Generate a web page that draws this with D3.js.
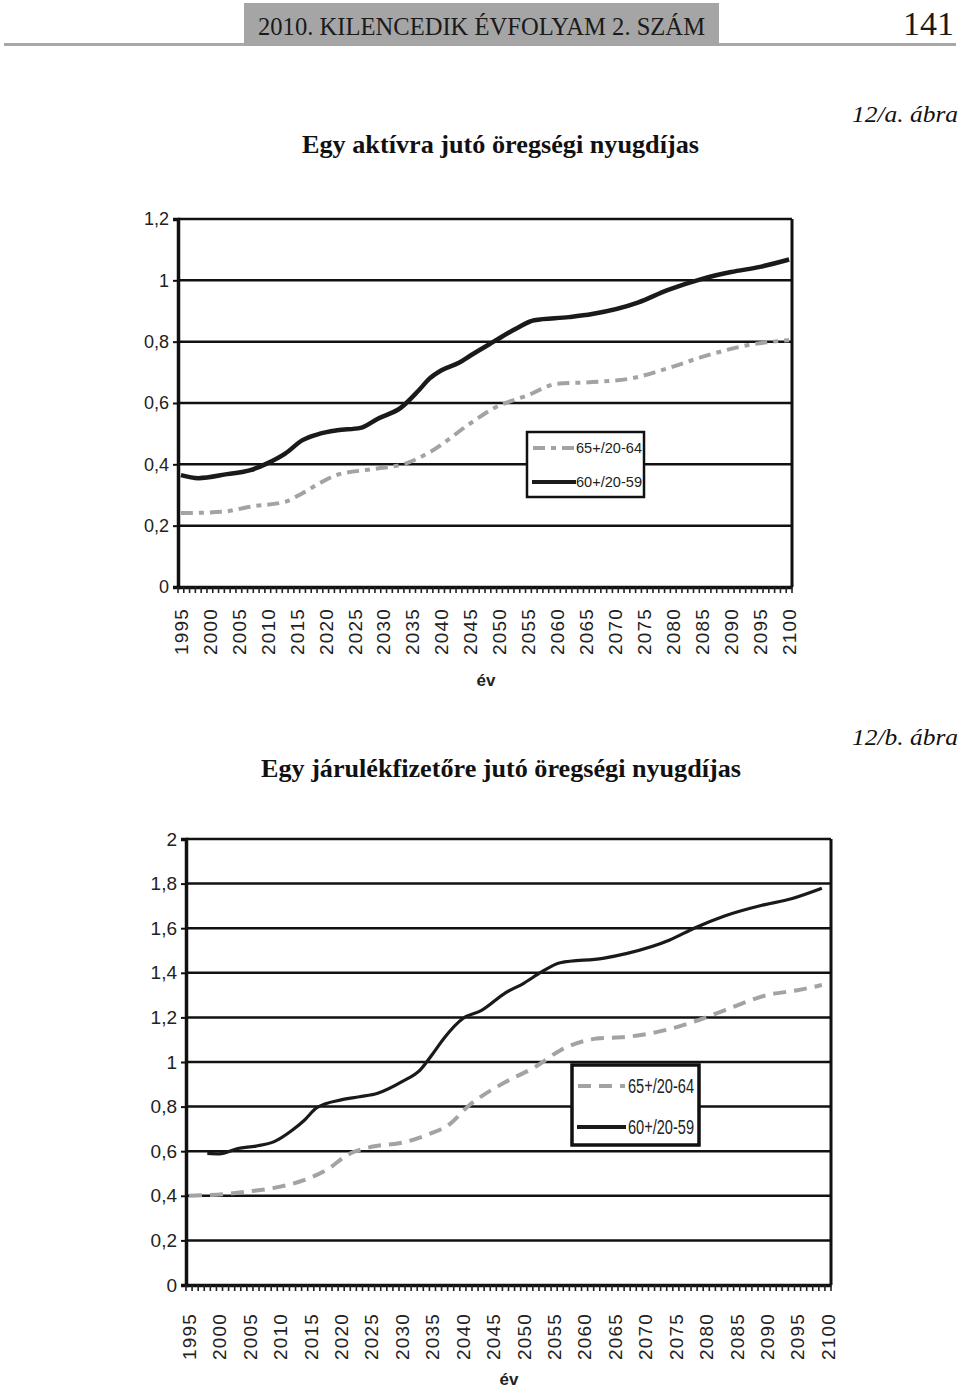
<!DOCTYPE html>
<html><head><meta charset="utf-8">
<script src="https://cdn.jsdelivr.net/npm/d3@7"></script>
<style>
html,body{margin:0;padding:0;background:#fff;}
svg{display:block;}
</style></head>
<body>
<svg id="page" width="960" height="1388"></svg>
<script>
// ---------- data ----------
const headerText = "2010. KILENCEDIK ÉVFOLYAM 2. SZÁM";
const pageNumber = "141";
const titleA = "Egy aktívra jutó öregségi nyugdíjas";
const figA = "12/a. ábra";
const titleB = "Egy járulékfizetőre jutó öregségi nyugdíjas";
const figB = "12/b. ábra";
const xAxisTitle = "év";
const seriesNames = ["65+/20-64", "60+/20-59"];
const yearTickLabels = [1995,2000,2005,2010,2015,2020,2025,2030,2035,2040,2045,2050,2055,2060,2065,2070,2075,2080,2085,2090,2095,2100];
const yTicksA = [0,0.2,0.4,0.6,0.8,1,1.2];
const yTicksB = [0,0.2,0.4,0.6,0.8,1,1.2,1.4,1.6,1.8,2];

// chart A (12/a)
const aYears65 = [1995,2002,2007,2013,2016,2019,2022,2028,2034,2038,2045,2049,2055,2060,2067,2073,2079,2086,2093,2100];
const aVals65  = [0.241,0.245,0.262,0.278,0.306,0.339,0.366,0.384,0.404,0.440,0.534,0.583,0.626,0.663,0.669,0.681,0.713,0.756,0.789,0.805];
const aYears60 = [1995,1998,2003,2007,2010,2013,2016,2019,2022,2026,2029,2033,2036,2038,2040,2043,2045,2049,2053,2056,2062,2066,2074,2079,2085,2090,2095,2100];
const aVals60  = [0.365,0.355,0.368,0.381,0.404,0.435,0.479,0.500,0.511,0.519,0.549,0.585,0.640,0.681,0.707,0.731,0.755,0.800,0.844,0.870,0.880,0.890,0.928,0.968,1.005,1.027,1.044,1.068];

// chart B (12/b)
const bYears65 = [1995,2001,2005,2010,2014,2018,2021,2025,2030,2034,2038,2041,2043,2047,2052,2056,2062,2067,2072,2078,2083,2090,2095,2099];
const bVals65  = [0.400,0.408,0.420,0.441,0.471,0.523,0.583,0.620,0.638,0.672,0.725,0.805,0.845,0.910,0.980,1.052,1.105,1.113,1.135,1.181,1.232,1.300,1.322,1.345];
const bYears60 = [1998,2000,2003,2006,2009,2012,2014,2016,2020,2023,2026,2030,2033,2035,2037,2040,2043,2047,2050,2053,2056,2063,2067,2074,2078,2083,2089,2094,2099];
const bVals60  = [0.590,0.588,0.612,0.623,0.643,0.695,0.740,0.795,0.830,0.844,0.860,0.912,0.965,1.035,1.110,1.195,1.230,1.310,1.353,1.405,1.445,1.465,1.487,1.547,1.600,1.655,1.702,1.732,1.779];

const allYears = d3.range(1995, 2101);
const fmt = v => String(v).replace(".", ",");

const svg = d3.select("#page");
const serif = "'Liberation Serif','Times New Roman',serif";
const narrow = "'Liberation Sans Narrow','Arial Narrow','Liberation Sans',Arial,sans-serif";
const sans = "'Liberation Sans',Arial,sans-serif";

// ---------- header ----------
svg.append("line").attr("x1",4).attr("x2",956).attr("y1",44.5).attr("y2",44.5).attr("stroke","#a8a8a8").attr("stroke-width",3);
svg.append("rect").attr("x",244).attr("y",3).attr("width",475).attr("height",43).attr("fill","#a5a5a5");
svg.append("text").attr("x",258).attr("y",35).attr("font-family",serif).attr("font-size",26)
  .attr("textLength",447).attr("lengthAdjust","spacingAndGlyphs").attr("fill","#1a1a1a").text(headerText);
svg.append("text").attr("x",954).attr("y",35).attr("text-anchor","end").attr("font-family",serif).attr("font-size",34)
  .attr("fill","#1a1a1a").text(pageNumber);

// ---------- chart drawing ----------
function drawChart(cfg){
  const g = svg.append("g");
  const x = d3.scaleBand().domain(allYears).range([cfg.left, cfg.right]).padding(0);
  const cx = yr => x(yr) + x.bandwidth()/2;
  const y = d3.scaleLinear().domain([0, cfg.yMax]).range([cfg.bottom, cfg.top]);

  // titles
  g.append("text").attr("x",cfg.titleX).attr("y",cfg.titleY).attr("font-family",serif).attr("font-weight","bold")
    .attr("font-size",25).attr("textLength",cfg.titleW).attr("lengthAdjust","spacingAndGlyphs").attr("fill","#111").text(cfg.title);
  g.append("text").attr("x",852).attr("y",cfg.figY).attr("font-family",serif).attr("font-style","italic")
    .attr("font-size",24).attr("textLength",106).attr("lengthAdjust","spacingAndGlyphs").attr("fill","#111").text(cfg.fig);

  // gridlines
  g.selectAll(".grid").data(cfg.yTicks.filter(d=>d>0)).join("line")
    .attr("x1",cfg.left).attr("x2",cfg.right).attr("y1",d=>y(d)).attr("y2",d=>y(d))
    .attr("stroke","#111").attr("stroke-width",2.5);
  // right border
  g.append("line").attr("x1",cfg.right).attr("x2",cfg.right).attr("y1",cfg.top).attr("y2",cfg.bottom)
    .attr("stroke","#111").attr("stroke-width",3);

  // y axis
  const yAxis = d3.axisLeft(y).tickValues(cfg.yTicks).tickFormat(fmt).tickSize(5).tickPadding(4);
  const ya = g.append("g").attr("transform",`translate(${cfg.left},0)`).call(yAxis);
  ya.select(".domain").attr("stroke","#111").attr("stroke-width",3.5);
  ya.selectAll(".tick line").attr("stroke","#111").attr("stroke-width",2);
  ya.selectAll(".tick text").attr("font-family",narrow).attr("font-size",cfg.yFont).attr("fill","#222");

  // x axis ticks (each year boundary)
  const xAxis = d3.axisBottom(x).tickValues([]).tickSizeOuter(0);
  const xa = g.append("g").attr("transform",`translate(0,${cfg.bottom})`).call(xAxis);
  xa.select(".domain").attr("stroke","#111").attr("stroke-width",3.5);
  g.selectAll(".ytick").data(allYears.concat([2101])).join("line")
    .attr("x1",d=> d===2101 ? cfg.right : x(d)).attr("x2",d=> d===2101 ? cfg.right : x(d))
    .attr("y1",cfg.bottom).attr("y2",cfg.bottom+6).attr("stroke","#222").attr("stroke-width",1.6);

  // x tick labels
  g.selectAll(".xl").data(yearTickLabels).join("text")
    .attr("transform",d=>`translate(${cx(d)},${cfg.bottom+cfg.labelOff}) rotate(-90)`)
    .attr("text-anchor","end").attr("dy","0.36em")
    .attr("font-family",sans).attr("font-size",cfg.xFont).attr("letter-spacing",cfg.xSpace).attr("fill","#222")
    .text(d=>d);
  g.append("text").attr("x",cfg.evX).attr("y",cfg.evY).attr("text-anchor","middle")
    .attr("font-family",narrow).attr("font-size",17).attr("font-weight","bold").attr("fill","#222").text(xAxisTitle);

  // series
  const line = d3.line().x(d=>cx(d[0])).y(d=>y(d[1])).curve(d3.curveMonotoneX);
  g.append("path").datum(d3.zip(cfg.years65, cfg.vals65)).attr("d",line)
    .attr("fill","none").attr("stroke","#a3a3a3").attr("stroke-width",4).attr("stroke-dasharray",cfg.dash);
  g.append("path").datum(d3.zip(cfg.years60, cfg.vals60)).attr("d",line)
    .attr("fill","none").attr("stroke","#1a1a1a").attr("stroke-width",cfg.blackW);

  // legend
  const L = cfg.legend;
  g.append("rect").attr("x",L.x).attr("y",L.y).attr("width",L.w).attr("height",L.h)
    .attr("fill","#fff").attr("stroke","#111").attr("stroke-width",L.bw);
  g.append("line").attr("x1",L.x+6).attr("x2",L.x+L.lineW).attr("y1",L.y+L.r1).attr("y2",L.y+L.r1)
    .attr("stroke","#a3a3a3").attr("stroke-width",4).attr("stroke-dasharray",cfg.dash);
  g.append("line").attr("x1",L.x+5).attr("x2",L.x+L.lineW+1).attr("y1",L.y+L.r2).attr("y2",L.y+L.r2)
    .attr("stroke","#1a1a1a").attr("stroke-width",4);
  g.append("text").attr("x",L.tx).attr("y",L.y+L.r1).attr("dy","0.36em").attr("font-family",narrow)
    .attr("font-size",L.fs).attr("textLength",L.tw).attr("lengthAdjust","spacingAndGlyphs").attr("fill","#222").text(seriesNames[0]);
  g.append("text").attr("x",L.tx).attr("y",L.y+L.r2).attr("dy","0.36em").attr("font-family",narrow)
    .attr("font-size",L.fs).attr("textLength",L.tw).attr("lengthAdjust","spacingAndGlyphs").attr("fill","#222").text(seriesNames[1]);
}

drawChart({
  left:178, right:792, top:219, bottom:587, yMax:1.2, yTicks:yTicksA, yFont:18,
  title:titleA, titleX:302, titleY:153, titleW:397, fig:figA, figY:122,
  labelOff:21, xFont:19, xSpace:1.2, evX:486, evY:686, dash:"12,6,5,6", blackW:4.5,
  years65:aYears65, vals65:aVals65, years60:aYears60, vals60:aVals60,
  legend:{x:527,y:432,w:117,h:65,bw:2.5,r1:16,r2:50,lineW:48,tx:576,tw:66,fs:15}
});
drawChart({
  left:186, right:831, top:839, bottom:1285, yMax:2, yTicks:yTicksB, yFont:19,
  title:titleB, titleX:261, titleY:777, titleW:480, fig:figB, figY:745,
  labelOff:28, xFont:19, xSpace:1.2, evX:509, evY:1385, dash:"13,8", blackW:3.2,
  years65:bYears65, vals65:bVals65, years60:bYears60, vals60:bVals60,
  legend:{x:572,y:1065,w:127,h:80,bw:3.5,r1:21,r2:62,lineW:53,tx:628,tw:66,fs:20}
});
</script>
</body></html>
